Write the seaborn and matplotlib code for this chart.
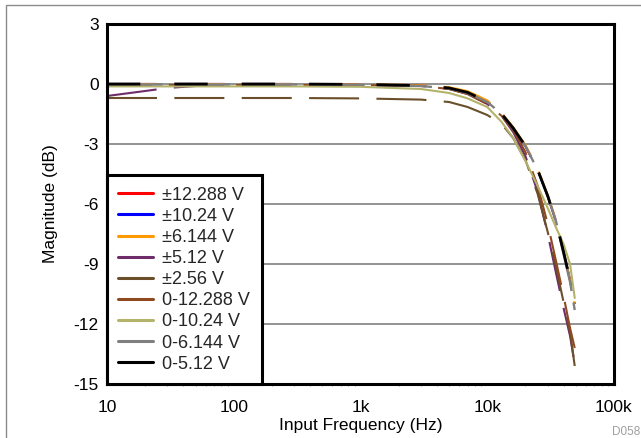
import matplotlib
matplotlib.use("Agg")
import matplotlib.pyplot as plt
import seaborn as sns
from matplotlib.lines import Line2D
from matplotlib.patches import Rectangle

# frequency points (Hz)
freq = [10, 20, 30, 50, 100, 300, 1000, 3000, 5000, 7000,
        10000, 13000, 16000, 20000, 25000, 30000, 35000, 40000, 45000, 49000]

# magnitude (dB) per input range
bip_12288 = [0, 0, 0, 0, 0, 0, -0.02, -0.08, -0.2, -0.42,
             -0.88, -1.5, -2.2, -3.1, -4.3, -5.6, -6.9, -8.4, -9.8, -11.0]
bip_1024 = [0, 0, 0, 0, 0, 0, -0.02, -0.08, -0.2, -0.42,
            -0.88, -1.5, -2.2, -3.1, -4.3, -5.6, -6.9, -8.4, -9.8, -11.0]
bip_6144 = [0, 0, 0, 0, 0, 0, -0.01, -0.06, -0.16, -0.36,
            -0.82, -1.45, -2.15, -3.05, -4.25, -5.55, -6.85, -8.35, -9.8, -11.0]
bip_512 = [-0.6, -0.35, -0.2, -0.1, -0.05, -0.04, -0.04, -0.1, -0.25, -0.5,
           -1.0, -1.6, -2.4, -3.6, -5.4, -7.5, -9.5, -11.2, -12.6, -14.0]
bip_256 = [-0.7, -0.7, -0.7, -0.7, -0.7, -0.7, -0.72, -0.78, -0.9, -1.15,
           -1.55, -2.0, -2.7, -3.8, -5.5, -7.4, -9.2, -10.9, -12.4, -14.1]
uni_12288 = [-0.05, -0.05, -0.05, -0.05, -0.05, -0.05, -0.05, -0.1, -0.25, -0.5,
             -1.0, -1.6, -2.3, -3.4, -5.1, -7.0, -8.9, -10.6, -12.2, -13.2]
uni_1024 = [-0.12, -0.12, -0.12, -0.12, -0.12, -0.12, -0.14, -0.25, -0.45, -0.72,
            -1.15, -1.9, -2.7, -3.85, -5.1, -6.2, -7.2, -8.0, -9.0, -10.7]
uni_6144 = [-0.02, -0.02, -0.02, -0.02, -0.02, -0.02, -0.04, -0.1, -0.22, -0.45,
            -0.9, -1.5, -2.2, -3.1, -4.3, -5.6, -6.9, -8.5, -9.9, -11.3]
uni_512 = [0, 0, 0, 0, 0, 0, -0.02, -0.08, -0.2, -0.42,
           -0.88, -1.5, -2.2, -3.1, -4.3, -5.6, -6.9, -8.4, -9.8, -10.8]

labels = ["\u00b112.288 V", "\u00b110.24 V", "\u00b16.144 V", "\u00b15.12 V", "\u00b12.56 V",
          "0-12.288 V", "0-10.24 V", "0-6.144 V", "0-5.12 V"]
series = [bip_12288, bip_1024, bip_6144, bip_512, bip_256,
          uni_12288, uni_1024, uni_6144, uni_512]
colors = ["#FF0000", "#0000FF", "#FF9900", "#6E2C6B", "#6B4F2A",
          "#8E4A1E", "#B3B36B", "#808080", "#000000"]

# dash patterns in points: (offset, (on, off)); None = solid
dashes = [(0, (36, 12.5)), (0, (36, 12.5)), (0, (36, 12.5)), (0, (36, 12.5)),
          (0, (36, 12.5)), (4, (36, 12.5)), None, (0, (40, 8.5)), (0, (24, 24.5))]
widths = [1.5, 1.5, 1.5, 1.5, 1.5, 1.5, 1.5, 1.7, 2.0]

sns.set_theme(style="white")
plt.rcParams["font.family"] = ["Liberation Sans", "DejaVu Sans"]
plt.rcParams["lines.scale_dashes"] = False

fig = plt.figure(figsize=(6.41, 4.38), dpi=100)
ax = fig.add_axes([107 / 641, 1 - 384 / 438, (614 - 107) / 641, (384 - 24) / 438])

for yv, c, d, w in zip(series, colors, dashes, widths):
    sns.lineplot(x=freq, y=yv, ax=ax, color=c, linewidth=w, legend=False)
    ln = ax.get_lines()[-1]
    if d is not None:
        ln.set_linestyle(d)
        ln.set_dash_capstyle("butt")

ax.set_xscale("log")
ax.set_xlim(10, 100000)
ax.set_ylim(-15, 3)
ax.set_yticks([3, 0, -3, -6, -9, -12, -15])
ax.set_yticklabels(["3", "0", "-3", "-6", "-9", "-12", "-15"])
ax.set_xticks([10, 100, 1000, 10000, 100000])
ax.set_xticklabels(["10", "100", "1k", "10k", "100k"])

for yg in [0, -3, -6, -9, -12]:
    ax.axhline(yg, color="#808080", linewidth=1.2, zorder=0.5)

ax.tick_params(axis="both", which="major", length=0, labelsize=12.5, colors="black")
ax.tick_params(axis="x", which="major", pad=11.5)
ax.tick_params(axis="y", which="major", pad=6)
ax.tick_params(axis="x", which="minor", bottom=True, direction="out", length=1.5,
               width=0.8, color="#999999")

for sp in ax.spines.values():
    sp.set_color("black")
    sp.set_linewidth(2.2)
    sp.set_visible(True)

ax.set_xlabel("Input Frequency (Hz)", fontsize=12.5, labelpad=2, color="black")
ax.set_ylabel("Magnitude (dB)", fontsize=12.5, labelpad=11, color="black")

handles = [Line2D([], [], color=c, linewidth=2.2) for c in colors]
leg = ax.legend(handles, labels, loc="lower left", borderaxespad=0, fontsize=13,
                frameon=True, fancybox=False, framealpha=1, edgecolor="black",
                handlelength=1.9, handletextpad=0.55, labelspacing=0.23,
                borderpad=0.62)
leg.get_frame().set_linewidth(2.2)

# outer border of the figure panel
fig.patches.append(Rectangle((6 / 641, -0.1), 1.0, 1 - 5 / 438 + 0.1,
                             transform=fig.transFigure, fill=False,
                             edgecolor="#8a8a8a", linewidth=1.0))
fig.text(612 / 641, 1 - 432 / 438, "D058", fontsize=8.5, color="#a0a0a0",
         ha="left", va="center")

fig.savefig("out.png", dpi=100)
